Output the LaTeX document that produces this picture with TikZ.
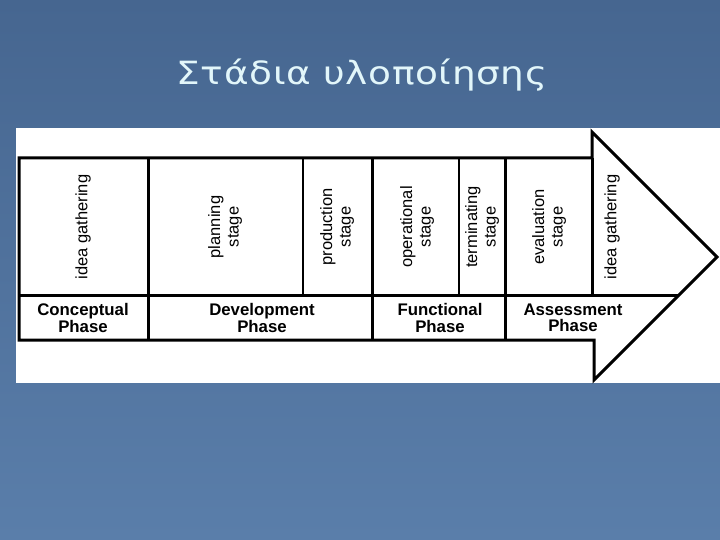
\documentclass[tikz,border=0pt]{standalone}
\usepackage{fontspec}
\setmainfont{Liberation Sans}
\newfontfamily\titlefont{DejaVu Sans}[FakeStretch=1.17,LetterSpace=2]
\usepackage{tikz}

\begin{document}
\begin{tikzpicture}[x=1pt,y=-1pt]
\tikzset{frame/.style={line width=3pt,line join=miter}}
\tikzset{thinline/.style={line width=1.8pt}}
\tikzset{stagetext/.style={rotate=90,align=center,font=\fontsize{16.5}{18.5}\selectfont}}
\tikzset{phasetext/.style={align=center,font=\bfseries\fontsize{16.8}{16.5}\selectfont}}
\useasboundingbox (0,0) rectangle (720,540);
\shade[top color={rgb,255:red,70;green,102;blue,144},bottom color={rgb,255:red,90;green,126;blue,170}] (0,0) rectangle (720,540);
\node[font=\titlefont\fontsize{32}{32}\selectfont,text={rgb,255:red,226;green,246;blue,250},anchor=base] (title) at (362,85) {Στάδια υλοποίησης};
\fill[white] (16,128) rectangle (720,383);
% arrow outline
\coordinate (tl) at (19,158);
\coordinate (bl) at (19,340);
\coordinate (headtop) at (592,132);
\coordinate (tip) at (717,257);
\coordinate (headbot) at (594,380);
\draw[frame] (tl) -- (592,158) -- (headtop) -- (tip) -- (headbot) -- (594,340) -- (bl) -- cycle;
\draw[frame] (592,158) -- (592,295);
\draw[frame] (19,295) -- (679,295);
\foreach \x in {148,372,505}
  \draw[frame] (\x,158) -- (\x,340);
\foreach \x in {303,459}
  \draw[thinline] (\x,158) -- (\x,295);
% stages
\node[stagetext] (idea1) at (83,227) {idea gathering};
\node[stagetext] (planning) at (225,227) {planning\\stage};
\node[stagetext] (production) at (337,227) {production\\stage};
\node[stagetext] (operational) at (417,227) {operational\\stage};
\node[stagetext] (terminating) at (482,227) {terminating\\stage};
\node[stagetext] (evaluation) at (549,227) {evaluation\\stage};
\node[stagetext] (idea2) at (612,227) {idea gathering};
% phases
\node[phasetext] (conceptual) at (83,318) {Conceptual\\Phase};
\node[phasetext] (development) at (262,318) {Development\\Phase};
\node[phasetext] (functional) at (440,318) {Functional\\Phase};
\node[phasetext] (assessment) at (573,318) {Assessment\\Phase};
\end{tikzpicture}
\end{document}
